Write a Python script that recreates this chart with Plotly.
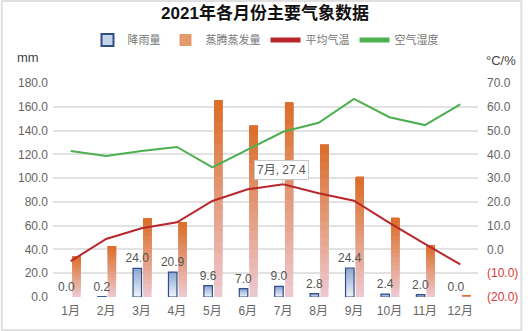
import plotly.graph_objects as go

# Monthly weather data, 2021
months = ["1月", "2月", "3月", "4月", "5月", "6月", "7月", "8月", "9月", "10月", "11月", "12月"]
rain = [0.0, 0.2, 24.0, 20.9, 9.6, 7.0, 9.0, 2.8, 24.4, 2.4, 2.0, 0.0]                     # mm
evap = [34.5, 42.8, 66.0, 63.0, 165.5, 144.0, 163.5, 128.0, 101.0, 66.5, 43.5, 1.5]      # mm
temp = [-4.9, 4.4, 8.9, 11.4, 20.4, 25.3, 27.4, 23.6, 20.5, 11.2, 2.3, -6.3]            # °C
humid = [41.4, 39.3, 41.4, 43.1, 34.5, 41.9, 49.5, 53.3, 63.3, 55.6, 52.3, 61.0]        # %

left_ticks = [0, 20, 40, 60, 80, 100, 120, 140, 160, 180]
right_ticks = [-20, -10, 0, 10, 20, 30, 40, 50, 60, 70]
right_labels = ["(20.0)", "(10.0)", "0.0", "10.0", "20.0", "30.0", "40.0", "50.0", "60.0", "70.0"]

FONT = "Liberation Sans, Noto Sans CJK SC, sans-serif"
N_STEPS = 18


def mix(c0, c1, t):
    return "rgb(%d,%d,%d)" % tuple(round(a + (b - a) * t) for a, b in zip(c0, c1))


def gradient_bars(fig, values, bottom_rgb, top_rgb, offset, width, group):
    # Layered bars: each layer starts higher up and runs to the top, giving a vertical fade
    for k in range(N_STEPS):
        frac = k / N_STEPS
        fig.add_trace(go.Bar(
            x=months,
            y=[v * (1 - frac) for v in values],
            base=[v * frac for v in values],
            offset=offset, width=width,
            marker=dict(color=mix(bottom_rgb, top_rgb, (k + 0.5) / N_STEPS), line=dict(width=0)),
            showlegend=False, hoverinfo="skip", legendgroup=group,
        ))


fig = go.Figure()

# Legend entries for the bar series
fig.add_trace(go.Bar(x=[None], y=[None], name="降雨量", legendgroup="rain",
                     marker=dict(color="#C6D4EA", line=dict(color="#2E4E86", width=1.2))))
fig.add_trace(go.Bar(x=[None], y=[None], name="蒸腾蒸发量", legendgroup="evap",
                     marker=dict(color="#E59A6C", line=dict(width=0))))

# Evaporation bars: pink at the base, orange at the top
gradient_bars(fig, evap, (237, 202, 210), (219, 108, 38), 0.05, 0.23, "evap")

# Rainfall bars: pale at the base, blue at the top, plus outline and value labels
gradient_bars(fig, rain, (240, 244, 250), (140, 166, 210), -0.24, 0.24, "rain")
fig.add_trace(go.Bar(
    x=months, y=rain, offset=-0.24, width=0.24,
    marker=dict(color="rgba(0,0,0,0)",
                line=dict(color="#2E4E86", width=[0 if v == 0 else 1.2 for v in rain])),
    text=[f"{v:.1f}" for v in rain], textposition="outside", constraintext="none",
    textfont=dict(size=12, color="#555555", family=FONT), cliponaxis=False,
    showlegend=False, legendgroup="rain", hoverinfo="skip",
))

# Temperature and humidity on the right axis
fig.add_trace(go.Scatter(x=months, y=temp, name="平均气温", mode="lines", yaxis="y2",
                         line=dict(color="#B8272C", width=2)))
fig.add_trace(go.Scatter(x=months, y=humid, name="空气湿度", mode="lines", yaxis="y2",
                         line=dict(color="#4CAF50", width=2)))

right_text = [
    f"<span style='color:#D9383A'>{t}</span>" if v < 0 else t
    for v, t in zip(right_ticks, right_labels)
]

fig.update_layout(
    width=530, height=331,
    margin=dict(l=53, r=45, t=83, b=34),
    paper_bgcolor="white", plot_bgcolor="white",
    barmode="overlay",
    font=dict(family=FONT, size=12, color="#666666"),
    title=dict(text="<b>2021年各月份主要气象数据</b>", x=0.5, xanchor="center",
               y=1 - 13 / 331, yanchor="middle",
               font=dict(size=17, color="#111111", family=FONT)),
    legend=dict(orientation="h", x=0.5, xanchor="center", y=(297 - 40) / 214, yanchor="middle",
                font=dict(size=11, color="#777777"), traceorder="normal",
                itemsizing="constant", bgcolor="rgba(0,0,0,0)"),
    xaxis=dict(type="category", showgrid=False, zeroline=False, showline=False,
               ticks="", ticklabelstandoff=5, tickfont=dict(size=12, color="#666666")),
    yaxis=dict(range=[0, 180], tickvals=left_ticks, tickformat=".1f",
               showgrid=True, gridcolor="#E2E2E2", gridwidth=1.5, zeroline=False,
               showline=False, ticks="", ticklabelstandoff=4,
               tickfont=dict(size=12, color="#666666")),
    yaxis2=dict(range=[-20, 70], overlaying="y", side="right", tickvals=right_ticks,
                ticktext=right_text, showgrid=False, zeroline=False, showline=False,
                ticks="", ticklabelstandoff=8, tickfont=dict(size=12, color="#666666")),
    annotations=[
        dict(text="mm", xref="paper", yref="paper", x=-25 / 432, y=(297 - 58) / 214,
             xanchor="center", yanchor="middle",
             showarrow=False, font=dict(size=13, color="#444444")),
        dict(text="°C/%", xref="paper", yref="paper", x=(508 - 53) / 432, y=(297 - 60) / 214,
             xanchor="center", yanchor="middle",
             showarrow=False, font=dict(size=13, color="#444444")),
        dict(text=f"{months[6]}, {temp[6]}", x=months[6], y=temp[6], xref="x", yref="y2",
             showarrow=True, arrowhead=0, arrowwidth=1, arrowcolor="#C8C8C8",
             ax=-2, ay=-14, bgcolor="white", bordercolor="#C8C8C8", borderwidth=1,
             borderpad=2, font=dict(size=12, color="#555555")),
    ],
    shapes=[
        dict(type="rect", xref="paper", yref="paper",
             x0=-52 / 432, x1=1 + 44 / 432, y0=-33 / 214, y1=1 + 82 / 214,
             line=dict(color="#E0E0E0", width=2), layer="below"),
    ],
    hovermode=False,
)

fig.write_html("out.html")
